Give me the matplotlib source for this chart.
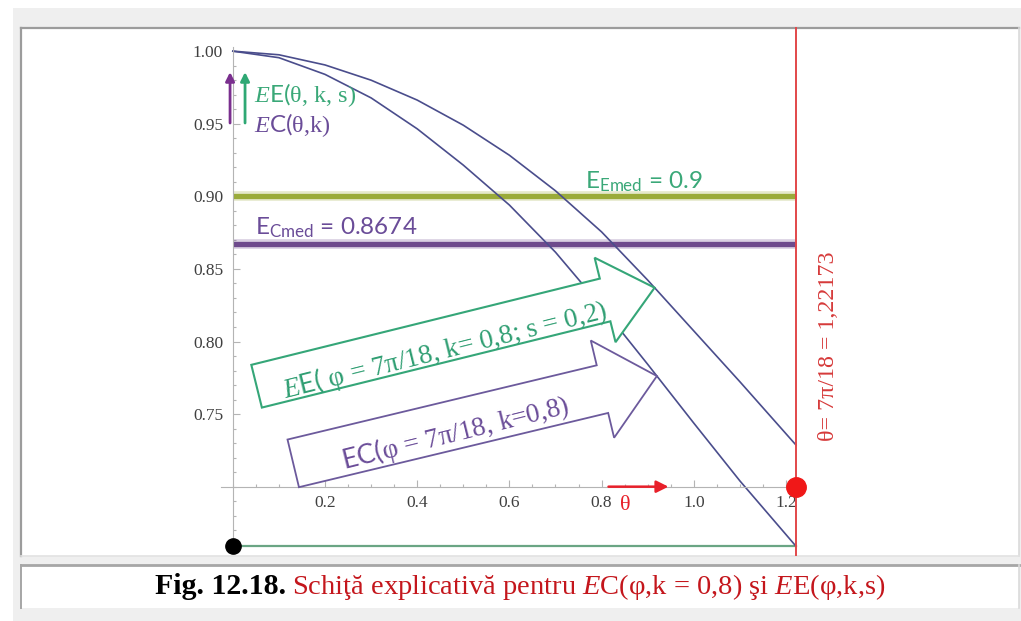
import numpy as np
import matplotlib
matplotlib.use("Agg")
import matplotlib.pyplot as plt
from matplotlib.patches import Rectangle, FancyArrow
from matplotlib.transforms import IdentityTransform
from matplotlib.ticker import MultipleLocator

plt.rcParams['mathtext.fontset'] = 'custom'
plt.rcParams['mathtext.rm'] = 'Liberation Serif'
plt.rcParams['mathtext.it'] = 'Liberation Serif:italic'
plt.rcParams['mathtext.sf'] = 'Lato'
plt.rcParams['mathtext.bf'] = 'Liberation Serif:bold'

# ---- data -------------------------------------------------------------
theta_ec = [0.0, 0.1, 0.2, 0.3, 0.4, 0.5, 0.6, 0.7, 0.8, 0.9, 1.0, 1.1, 1.2217]
ec_values = [1.000, 0.9955, 0.984, 0.9678, 0.9465, 0.9215, 0.894, 0.8615, 0.824,
             0.7843, 0.7438, 0.704, 0.659]

theta_ee = [0.0, 0.1, 0.2, 0.3, 0.4, 0.5, 0.6, 0.7, 0.8, 0.9, 1.0, 1.1, 1.2217]
ee_values = [1.000, 0.9975, 0.9905, 0.980, 0.9663, 0.949, 0.9283, 0.9038, 0.8755,
             0.8423, 0.8073, 0.7723, 0.7287]

ec_mean = 0.8674
ee_mean = 0.9
theta_max = 7 * np.pi / 18          # 1.22173
axis_level = 0.70

x_ticks = [0.2, 0.4, 0.6, 0.8, 1.0, 1.2]
x_tick_labels = ["0.2", "0.4", "0.6", "0.8", "1.0", "1.2"]
y_ticks = [0.75, 0.80, 0.85, 0.90, 0.95, 1.00]
y_tick_labels = ["0.75", "0.80", "0.85", "0.90", "0.95", "1.00"]

# ---- colours ----------------------------------------------------------
CURVE = '#4a4d8c'
GREEN_TXT = '#3aa878'
PURPLE_TXT = '#6a4c98'
OLIVE = '#9aab3a'
PURPLE_LINE = '#6e4a8c'
RED = '#e2474a'
CAPTION_RED = '#c4161c'

W, H = 1021, 621
fig = plt.figure(figsize=(W / 100, H / 100), dpi=100)
fig.patch.set_facecolor('white')


def fx(x):
    return x / W


def fy(y):
    return 1 - y / H


# ---- page frame -------------------------------------------------------
bg = fig.add_axes([0, 0, 1, 1], zorder=-1)
bg.set_xlim(0, W)
bg.set_ylim(H, 0)
bg.axis('off')
bg.add_patch(Rectangle((13, 8), W - 13, H - 8, facecolor='#efefef', edgecolor='none'))
bg.add_patch(Rectangle((21, 28), 998, 528, facecolor='white', edgecolor='none'))
bg.plot([21, 1019], [28, 28], color='#9c9c9c', lw=1.6)
bg.plot([21, 21], [28, 556], color='#9c9c9c', lw=1.6)
bg.plot([1019, 1019], [28, 556], color='#dadada', lw=1.2)
bg.plot([21, 1019], [556, 556], color='#e2e2e2', lw=1.2)
bg.add_patch(Rectangle((21, 565), 998, 43, facecolor='white', edgecolor='none'))
bg.plot([21, 1019], [565, 565], color='#a6a6a6', lw=2.0)
bg.plot([21, 21], [565, 608], color='#a6a6a6', lw=1.4)
bg.plot([1019, 1019], [565, 608], color='#dadada', lw=1.2)

# ---- main axes --------------------------------------------------------
ax = fig.add_axes([221.3 / W, (H - 552) / H, 580.8 / W, 505.2 / H], zorder=1)
ax.set_facecolor('none')
ax.set_xlim(-0.025, 1.235)
ax.set_ylim(0.655, 1.003)
for side in ('top', 'right'):
    ax.spines[side].set_visible(False)
ax.spines['left'].set_position(('data', 0))
ax.spines['bottom'].set_position(('data', axis_level))
for side in ('left', 'bottom'):
    ax.spines[side].set_color('#b4b4b4')
    ax.spines[side].set_linewidth(0.8)

ax.set_xticks(x_ticks)
ax.set_xticklabels(x_tick_labels)
ax.set_yticks(y_ticks)
ax.set_yticklabels(y_tick_labels)
ax.xaxis.set_minor_locator(MultipleLocator(0.05))
ax.yaxis.set_minor_locator(MultipleLocator(0.01))
ax.tick_params(which='both', direction='in', color='#b4b4b4', width=0.8)
ax.tick_params(which='major', length=5)
ax.tick_params(which='minor', length=2.5)
ax.tick_params(axis='x', pad=6)
ax.tick_params(axis='y', pad=7)
for lab in ax.get_xticklabels() + ax.get_yticklabels():
    lab.set_fontfamily('Liberation Serif')
    lab.set_fontsize(12.5)
    lab.set_color('#404040')

# mean-efficiency levels
ax.plot([0, theta_max], [ee_mean, ee_mean], color=OLIVE, lw=7, alpha=0.25,
        solid_capstyle='butt', zorder=2)
ax.plot([0, theta_max], [ee_mean, ee_mean], color=OLIVE, lw=3.8,
        solid_capstyle='butt', zorder=2)
ax.plot([0, theta_max], [ec_mean, ec_mean], color=PURPLE_LINE, lw=7, alpha=0.25,
        solid_capstyle='butt', zorder=2)
ax.plot([0, theta_max], [ec_mean, ec_mean], color=PURPLE_LINE, lw=3.8,
        solid_capstyle='butt', zorder=2)

# efficiency curves
ax.plot(theta_ec, ec_values, color=CURVE, lw=1.2, zorder=2.5)
ax.plot(theta_ee, ee_values, color=CURVE, lw=1.2, zorder=2.5)

# bottom level of EC at theta_max
ax.plot([0, theta_max], [ec_values[-1], ec_values[-1]], color='#6aa584', lw=1.6,
        clip_on=False, zorder=2)
ax.plot(0, ec_values[-1], 'o', color='black', ms=11, clip_on=False, zorder=6)

# theta = 7pi/18 marker line
ax.axvline(theta_max, ymin=-0.006, ymax=1.037, color=RED, lw=1.4, clip_on=False,
           zorder=3)
ax.plot(theta_max, axis_level, 'o', color='#f01818', ms=14, clip_on=False, zorder=6)
fig.text(fx(829), fy(346), "θ= 7π/18 = 1,22173", rotation=90, ha='center',
         va='center', fontsize=17.3, family='Liberation Serif', color='#d63a3a')

# theta direction arrow on the abscissa
ax.annotate('', xy=(0.945, axis_level), xytext=(0.815, axis_level),
            arrowprops=dict(arrowstyle='-|>', color='#e8202a', lw=1.8,
                            mutation_scale=18, shrinkA=0, shrinkB=0), zorder=5)
fig.text(fx(625), fy(505), "θ", ha='center', va='center', fontsize=16,
         family='Liberation Serif', color='#e8202a')

# legend arrows
ax.annotate('', xy=(-0.006, 0.9856), xytext=(-0.006, 0.9505),
            arrowprops=dict(arrowstyle='-|>', color='#7a2f8e', lw=2,
                            mutation_scale=13, shrinkA=0, shrinkB=0),
            annotation_clip=False)
ax.annotate('', xy=(0.0265, 0.9856), xytext=(0.0265, 0.9505),
            arrowprops=dict(arrowstyle='-|>', color='#2fa874', lw=2,
                            mutation_scale=13, shrinkA=0, shrinkB=0),
            annotation_clip=False)
fig.text(fx(254), fy(95), r"$\mathit{E}\mathsf{E(}$θ, k, s)", ha='left', va='center',
         fontsize=17.5, family='Liberation Serif', color=GREEN_TXT)
fig.text(fx(254), fy(125), r"$\mathit{E}\mathsf{C(}$θ,k)", ha='left', va='center',
         fontsize=17.5, family='Liberation Serif', color=PURPLE_TXT)

# mean labels
fig.text(fx(585), fy(188), r"$\mathsf{E_{Emed}}$ = 0.9", ha='left', va='baseline',
         fontsize=17.5, family='Lato', color=GREEN_TXT)
fig.text(fx(255), fy(234), r"$\mathsf{E_{Cmed}}$ = 0.8674", ha='left', va='baseline',
         fontsize=17.5, family='Lato', color=PURPLE_TXT)


# ---- block arrows pointing at the curves at phi = 7pi/18 --------------
def block_arrow(series_theta, series_values, at_theta, length, angle_deg, shaft,
                head_w, head_l, color, lw):
    tip_value = np.interp(at_theta, series_theta, series_values)
    tip = ax.transData.transform((at_theta, tip_value))
    a = np.deg2rad(angle_deg)
    d = np.array([np.cos(a), np.sin(a)])
    tail = tip - length * d
    arr = FancyArrow(tail[0], tail[1], length * d[0], length * d[1], width=shaft,
                     head_width=head_w, head_length=head_l,
                     length_includes_head=True, transform=IdentityTransform(),
                     facecolor='white', edgecolor=color, lw=lw, clip_on=False,
                     zorder=4)
    ax.add_patch(arr)


block_arrow(theta_ee, ee_values, 0.915, 410, 13.9, 44, 87, 51, '#35a678', 1.5)
block_arrow(theta_ec, ec_values, 0.92, 374, 13.5, 49, 100, 56, '#6c5a9c', 1.3)

fig.text(fx(445), fy(350), r"$\mathit{E}\mathsf{E(}$ φ = 7π/18, k= 0,8; s = 0,2)",
         rotation=14, rotation_mode='anchor', ha='center', va='center',
         fontsize=19.5, family='Liberation Serif', color='#2f9e72', zorder=5)
fig.text(fx(455), fy(433), r"$\mathsf{EC(}$φ = 7π/18, k=0,8)",
         rotation=14, rotation_mode='anchor', ha='center', va='center',
         fontsize=19.5, family='Liberation Serif', color='#6a4c98', zorder=5)

# ---- caption ----------------------------------------------------------
fig.canvas.draw()
renderer = fig.canvas.get_renderer()
cap_base = 594
t1 = fig.text(0, fy(cap_base), "Fig. 12.18.", ha='left', va='baseline', fontsize=21.5,
              fontweight='bold', family='Liberation Serif', color='black')
t2 = fig.text(0, fy(cap_base),
              r"Schiţă explicativă pentru $\mathit{E}$C(φ,k = 0,8) şi $\mathit{E}$E(φ,k,s)",
              ha='left', va='baseline', fontsize=20.5, family='Liberation Serif',
              color=CAPTION_RED)
w1 = t1.get_window_extent(renderer).width
w2 = t2.get_window_extent(renderer).width
gap = 6
x0 = 520.5 - (w1 + gap + w2) / 2
t1.set_x(fx(x0))
t2.set_x(fx(x0 + w1 + gap))

fig.savefig("out.png", dpi=100, facecolor=fig.get_facecolor())
